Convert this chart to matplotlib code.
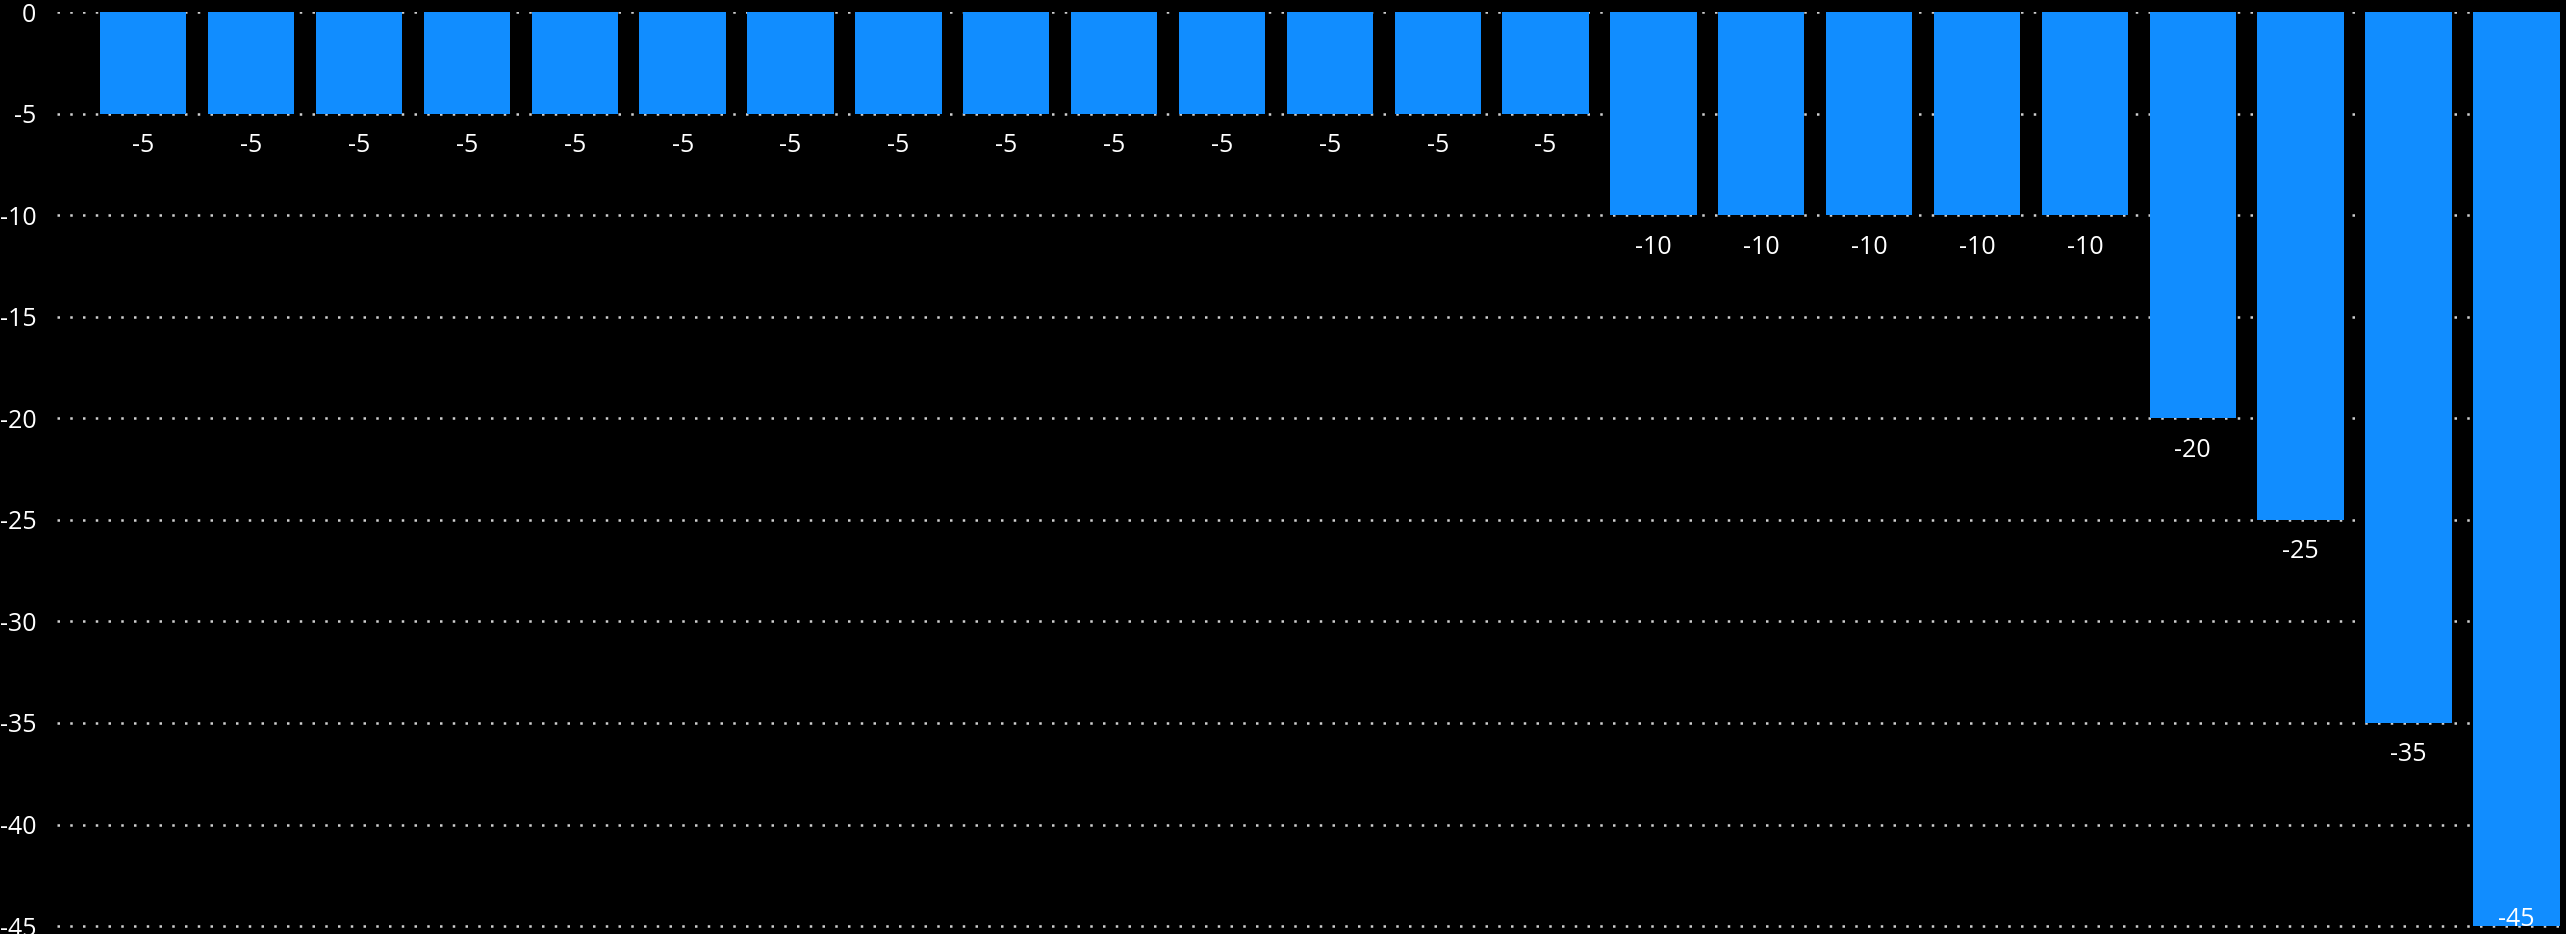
import matplotlib
matplotlib.use("Agg")
import matplotlib.pyplot as plt

categories = [f"C{i+1}" for i in range(23)]
values = [-5]*14 + [-10]*5 + [-20, -25, -35, -45]
yticks = [0, -5, -10, -15, -20, -25, -30, -35, -40, -45]

W, H, DPI = 2566, 934, 100
plt.rcParams['font.family'] = ['Open Sans', 'DejaVu Sans']
fig = plt.figure(figsize=(W/DPI, H/DPI), dpi=DPI, facecolor='black')
ax = fig.add_axes([57/W, 0, 1 - 57/W, (H-12)/H])
ax.set_facecolor('black')

x = list(range(len(values)))
bars = ax.bar(x, values, width=0.80, color='#118DFF', zorder=2)

ax.set_xlim(-0.80, 22.46)
ax.set_ylim(-45.39, 0)
ax.set_yticks(yticks)
ax.set_yticklabels([str(t) for t in yticks], color='white', fontsize=18)
ax.tick_params(axis='y', length=0, pad=15)
ax.set_xticks([])
for s in ax.spines.values():
    s.set_visible(False)
ax.yaxis.grid(True, color='#d0d0d0', linewidth=1.8, linestyle=(0, (1, 4.1)), zorder=1)
ax.set_axisbelow(True)

ymin = ax.get_ylim()[0]
for xi, v in zip(x, values):
    if v - 2.0 < ymin:
        ax.annotate(str(v), (xi, v), xytext=(0, 7), textcoords='offset pixels',
                    ha='center', va='center', color='white', fontsize=18,
                    annotation_clip=False)
    else:
        ax.annotate(str(v), (xi, v), xytext=(0, -32), textcoords='offset pixels',
                    ha='center', va='center', color='white', fontsize=18)

fig.savefig('out.png', dpi=DPI, facecolor='black')
